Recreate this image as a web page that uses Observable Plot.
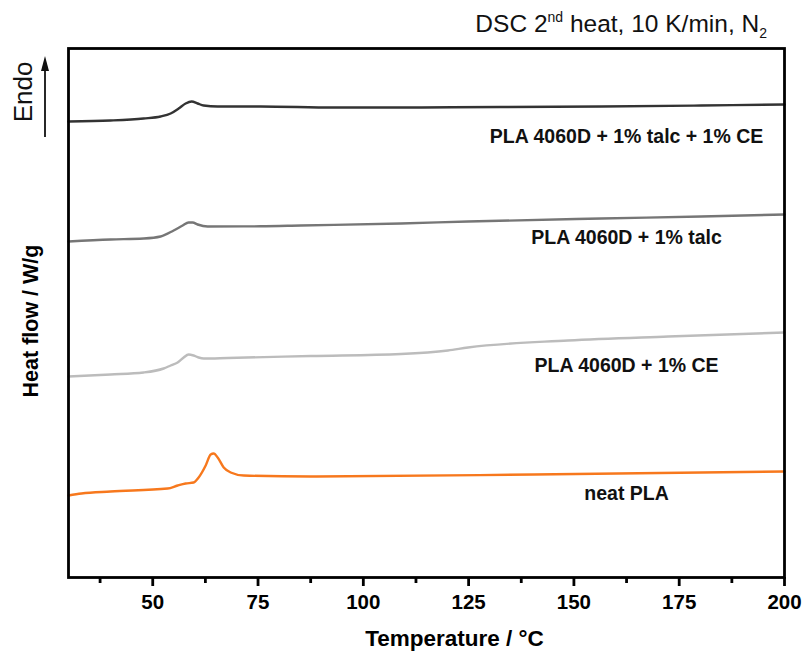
<!DOCTYPE html>
<html>
<head>
<meta charset="utf-8">
<script src="https://cdn.jsdelivr.net/npm/d3@7"></script>
<script src="https://cdn.jsdelivr.net/npm/@observablehq/plot@0.6"></script>
<style>
  html, body { margin: 0; padding: 0; background: #fff; }
  #chart { width: 803px; height: 652px; }
  svg { overflow: visible; }
</style>
</head>
<body>
<div id="chart"></div>
<script>
// ---- data (Temperature in °C, heat flow in W/g with vertical offsets) ----
const talcCE_T  = [30, 39.98, 47.83, 51.87, 54.25, 56.15, 57.81, 59.24, 60.66, 62.09, 65.42, 75.64, 92.99, 108.92, 132.69, 156.46, 180.23, 200];
const talcCE_HF = [4.56, 4.57, 4.59, 4.61, 4.64, 4.69, 4.74, 4.76, 4.74, 4.72, 4.71, 4.71, 4.70, 4.70, 4.705, 4.71, 4.72, 4.73];

const talc_T  = [30, 39.98, 47.83, 51.87, 54.96, 57.10, 58.52, 59.48, 60.66, 63.04, 75.64, 85.15, 108.92, 124.85, 156.46, 180.23, 200];
const talc_HF = [3.36, 3.38, 3.39, 3.41, 3.47, 3.52, 3.55, 3.55, 3.53, 3.51, 3.512, 3.52, 3.54, 3.56, 3.59, 3.61, 3.63];

const ce_T  = [30, 39.98, 47.83, 52.58, 54.25, 55.91, 57.34, 58.52, 59.71, 60.90, 62.09, 67.79, 87.52, 108.92, 120.09, 124.85, 148.62, 172.39, 200];
const ce_HF = [2.01, 2.03, 2.05, 2.09, 2.12, 2.15, 2.20, 2.23, 2.22, 2.20, 2.19, 2.195, 2.215, 2.235, 2.27, 2.30, 2.37, 2.41, 2.45];

const neat_T  = [30, 33.09, 39.98, 53.53, 55.91, 57.81, 59.71, 60.90, 62.57, 63.76, 64.47, 65.42, 66.85, 68.51, 71.60, 87.52, 140.53, 200];
const neat_HF = [0.82, 0.84, 0.86, 0.89, 0.92, 0.94, 0.95, 1.00, 1.12, 1.23, 1.24, 1.20, 1.10, 1.05, 1.02, 1.01, 1.03, 1.06];

const seriesNames  = ["PLA 4060D + 1% talc + 1% CE", "PLA 4060D + 1% talc", "PLA 4060D + 1% CE", "neat PLA"];
const seriesColors = ["#333333", "#767676", "#bcbcbc", "#f7781d"];
const labelT  = [162.5, 162.5, 162.5, 162.5];
const labelHF = [4.41, 3.40, 2.12, 0.84];

const majorTicks = [50, 75, 100, 125, 150, 175, 200];
const minorTicks = [37.5, 62.5, 87.5, 112.5, 137.5, 162.5, 187.5];

// ---- build tables ----
const curves = [[talcCE_T, talcCE_HF], [talc_T, talc_HF], [ce_T, ce_HF], [neat_T, neat_HF]];
const rows = [];
curves.forEach(([T, HF], i) => T.forEach((t, j) => rows.push({series: seriesNames[i], T: t, HF: HF[j]})));
const labels = seriesNames.map((s, i) => ({series: s, T: labelT[i], HF: labelHF[i]}));

const FONT = "Liberation Sans, Arial, sans-serif";

const plot = Plot.plot({
  width: 803,
  height: 652,
  marginLeft: 68,
  marginRight: 19,
  marginTop: 48,
  marginBottom: 75,
  style: {fontFamily: FONT, background: "#fff", color: "#000"},
  x: {domain: [30, 200]},
  y: {domain: [0, 5.29], axis: null},
  color: {domain: seriesNames, range: seriesColors},
  marks: [
    Plot.line(rows, {x: "T", y: "HF", z: "series", stroke: "series", strokeWidth: 2.4, curve: "monotone-x"}),
    Plot.text(labels, {x: "T", y: "HF", text: "series", fontSize: 19.5, fontWeight: "bold", fill: "#111", textAnchor: "middle", lineAnchor: "middle"}),
    Plot.frame({stroke: "#000", strokeWidth: 2.8}),
    Plot.axisX({ticks: minorTicks, tickSize: 6, text: null, label: null, strokeWidth: 2.8}),
    Plot.axisX({ticks: majorTicks, tickSize: 9, tickPadding: 8, tickFormat: d => String(d), label: null,
                strokeWidth: 2.8, fontSize: 20.5, fontWeight: "bold", fill: "#000"}),
    Plot.text(["Temperature / °C"], {frameAnchor: "bottom", dx: 28, dy: 61, text: d => d, fontSize: 22.5, fontWeight: "bold", lineAnchor: "middle", fill: "#000"}),
    Plot.text(["Heat flow / W/g"], {frameAnchor: "left", dx: -37, dy: 8, rotate: -90, text: d => d, fontSize: 21.5, fontWeight: "bold", lineAnchor: "middle", textAnchor: "middle", fill: "#000"})
  ]
});

document.getElementById("chart").appendChild(plot);

// ---- annotations: title with super/subscript, Endo arrow ----
const svg = d3.select(plot);
const title = svg.append("text")
  .attr("x", 767).attr("y", 32)
  .attr("text-anchor", "end")
  .attr("font-family", FONT)
  .attr("font-size", 24.5)
  .attr("fill", "#111");
title.append("tspan").text("DSC 2");
title.append("tspan").attr("font-size", 14).attr("dy", -10).text("nd");
title.append("tspan").attr("dy", 10).text(" heat, 10 K/min, N");
title.append("tspan").attr("font-size", 14).attr("dy", 6).text("2");

svg.append("text")
  .attr("transform", "translate(32,92) rotate(-90)")
  .attr("text-anchor", "middle")
  .attr("font-family", FONT)
  .attr("font-size", 26)
  .attr("fill", "#111")
  .text("Endo");

svg.append("line")
  .attr("x1", 45).attr("x2", 45).attr("y1", 137).attr("y2", 66)
  .attr("stroke", "#111").attr("stroke-width", 1.8);
svg.append("path")
  .attr("d", "M45,56 L49,71 L41,71 Z")
  .attr("fill", "#111");
</script>
</body>
</html>
